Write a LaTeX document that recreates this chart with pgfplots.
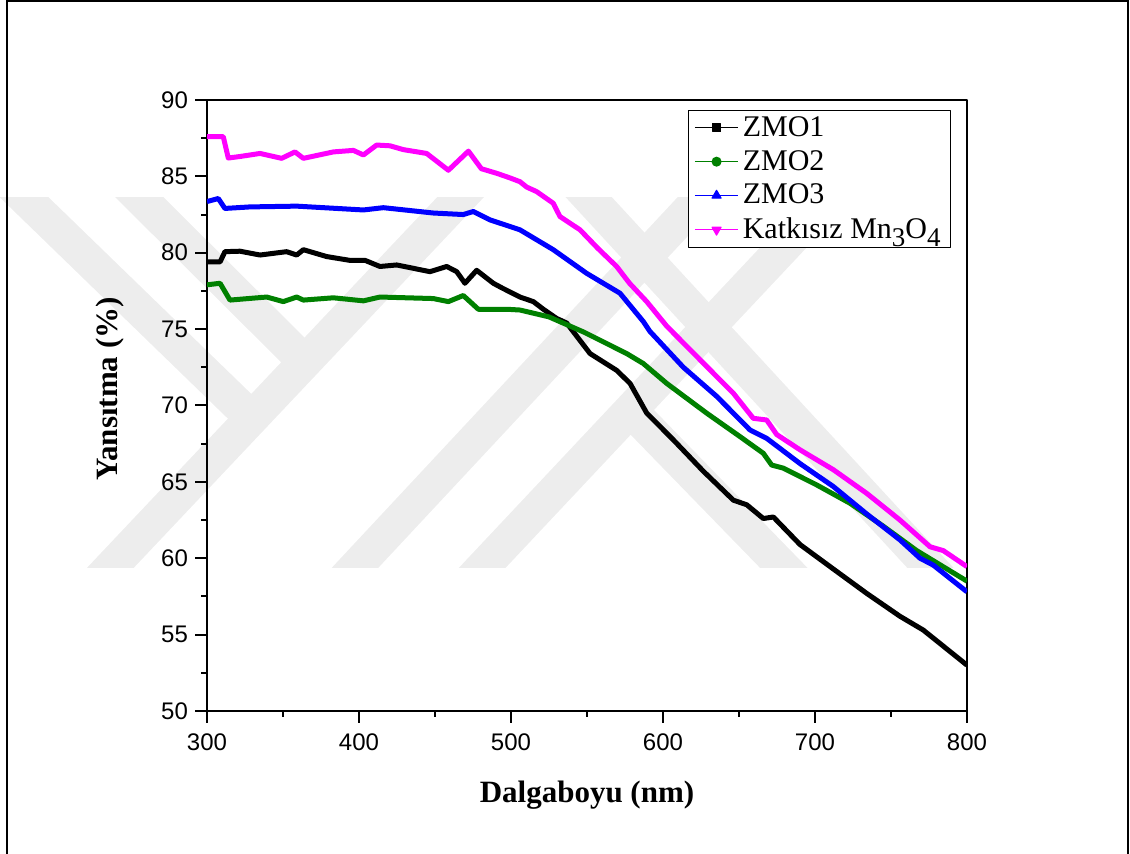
\documentclass[border=0pt]{standalone}
\usepackage{fontspec}
\setmainfont{Liberation Serif}
\newfontfamily\arialfont{Liberation Sans}
\usepackage{pgfplots}
\pgfplotsset{compat=1.18}
\definecolor{wm}{RGB}{237,237,237}
\definecolor{zgreen}{RGB}{0,128,0}
\definecolor{zblue}{RGB}{0,0,255}
\definecolor{zmag}{RGB}{255,0,255}
\begin{document}
\begin{tikzpicture}
\useasboundingbox (0,0) rectangle (565pt,427pt);
% watermark (decoration)
\begin{scope}[shift={(0pt,427pt)},x=0.5pt,y=-0.5pt]
  \clip (0,198) rectangle (1130,568);
  \begin{scope}[wm, line width=17pt, line cap=butt]
    \draw (-4,170) -- (262,428);
    \draw (112,170) -- (305,362);
    \draw (80,600) -- (490,166);
    \draw (325,600) -- (730,166);
    \draw (452,600) -- (860,166);
    \draw (560,166) -- (960,600);
    \draw (640,420) -- (815,600);
  \end{scope}
\end{scope}
% outer frame
\draw[line width=1pt] (3.5pt,0pt) -- (3.5pt,426.5pt) -- (564pt,426.5pt) -- (564pt,0pt);
\begin{axis}[
  at={(103.5pt,71.5pt)}, anchor=south west,
  scale only axis, width=380pt, height=305.5pt,
  xmin=300, xmax=800, ymin=50, ymax=90,
  xtick={300,400,...,800}, ytick={50,55,...,90},
  minor x tick num=1, minor y tick num=1,
  tick align=outside, xtick pos=bottom, ytick pos=left,
  major tick length=6pt, minor tick length=3pt,
  axis line style={line width=1pt},
  tick style={line width=1pt, black},
  /pgf/number format/assume math mode=true,
  ticklabel style={font=\arialfont\fontsize{12}{14}\selectfont},
  xticklabel style={yshift=-2pt},
  xlabel={Dalgaboyu (nm)},
  ylabel={Yansıtma (\%)},
  xlabel style={font=\bfseries\fontsize{15.5}{18}\selectfont, at={(axis description cs:0.5,-0.1375)}, anchor=center},
  ylabel style={font=\bfseries\fontsize{15.5}{18}\selectfont, at={(axis description cs:-0.1276,0.527)}, anchor=center},
  legend cell align=left,
  legend image code/.code={\draw[mark repeat=2,mark phase=2] plot coordinates {(0cm,0cm) (0.38cm,0cm) (0.76cm,0cm)};},
  legend style={at={(rel axis cs:1,1)}, anchor=north east, xshift=-8pt, yshift=-5pt,
    draw=black, font=\fontsize{15}{17}\selectfont, row sep=1.5pt, inner ysep=1pt},
  line join=round,
]
\addlegendimage{black, line width=0.6pt, mark=square*, mark size=2pt}
\addlegendentry{ZMO1}
\addlegendimage{zgreen, line width=0.6pt, mark=*, mark size=2.2pt}
\addlegendentry{ZMO2}
\addlegendimage{zblue, line width=0.6pt, mark=triangle*, mark size=2.6pt}
\addlegendentry{ZMO3}
\addlegendimage{zmag, line width=0.6pt, mark=triangle*, mark size=2.6pt, mark options={rotate=180}}
\addlegendentry{Katkısız Mn{\fontsize{13.5}{15}\selectfont\raisebox{-0.3em}{3}}O{\fontsize{13.5}{15}\selectfont\raisebox{-0.3em}{4}}}

\addplot[black, line width=2.5pt, forget plot] coordinates {
(300,79.4) (308.6,79.4) (311.8,80.07) (321.7,80.1) (334.9,79.85) (352.4,80.07)
(359,79.85) (363.4,80.2) (378.7,79.75) (394,79.5) (404,79.5) (413.8,79.1)
(424.8,79.2) (446.7,78.76) (457.7,79.1) (464.3,78.76) (469.7,78.0) (477.4,78.85)
(488.4,78.0) (494,77.7) (505.9,77.1) (514.7,76.8) (521.3,76.3) (530,75.7)
(536.6,75.4) (552,73.4) (569.5,72.3) (578.3,71.45) (589.3,69.5) (606.8,67.75)
(626.5,65.7) (646.3,63.8) (655.1,63.5) (666,62.6) (672.6,62.7) (690.1,60.9)
(712,59.3) (734,57.7) (755.9,56.2) (771.2,55.3) (800,53.0)
};
\addplot[zgreen, line width=2.5pt, forget plot] coordinates {
(300,77.9) (308.6,78.0) (315.1,76.9) (339.3,77.1) (350.2,76.8) (359,77.1)
(363.4,76.9) (383.1,77.05) (402.9,76.85) (413.8,77.1) (448.9,77.0) (458.8,76.8)
(468.6,77.2) (478.5,76.3) (497.1,76.3) (505.9,76.25) (525,75.8) (548,74.8)
(576.1,73.4) (587,72.75) (602.4,71.45) (628.7,69.5) (650.7,67.96) (666,66.87)
(671.5,66.1) (679.1,65.9) (701.1,64.8) (723,63.6) (744.9,62.1) (766.9,60.5)
(800,58.5)
};
\addplot[zblue, line width=2.5pt, forget plot] coordinates {
(300,83.35) (307.4,83.55) (311.8,82.9) (328.3,83.0) (359,83.05) (402.9,82.8)
(416,82.95) (448.9,82.6) (468.6,82.5) (475.2,82.7) (486.2,82.15) (505.9,81.5)
(527.8,80.2) (549.8,78.65) (571.7,77.35) (587,75.5) (591.4,74.85) (613.4,72.5)
(635.3,70.6) (657.2,68.4) (668.2,67.85) (690.1,66.2) (712,64.7) (734,62.9)
(755.9,61.2) (769.1,60.0) (777.8,59.55) (800,57.8)
};
\addplot[zmag, line width=2.5pt, forget plot] coordinates {
(300,87.6) (310.7,87.6) (314,86.2) (321.7,86.3) (334.9,86.5) (349.1,86.18)
(357.9,86.6) (363.4,86.18) (383.1,86.6) (396.3,86.7) (402.9,86.4) (411.6,87.05)
(420.4,87.0) (429.2,86.75) (444.5,86.5) (458.8,85.4) (472,86.65) (480.5,85.5)
(490.6,85.2) (499.3,84.9) (505.9,84.65) (510.3,84.3) (516.9,84.0) (527.8,83.24)
(532.2,82.37) (545.4,81.5) (557,80.3) (569.5,79.1) (578,78.0) (589.3,76.8)
(602.4,75.2) (624.3,73.0) (646.3,70.8) (659.4,69.16) (668.2,69.05) (674.8,68.1)
(690.1,67.1) (712,65.8) (734,64.25) (755.9,62.5) (775.7,60.75) (784.4,60.5)
(800,59.45)
};
\end{axis}
\end{tikzpicture}
\end{document}
